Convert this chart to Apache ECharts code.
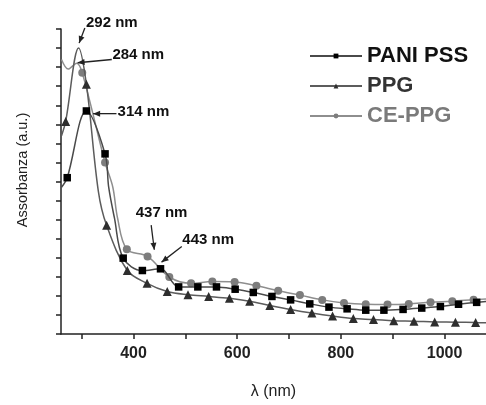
<!DOCTYPE html>
<html>
<head>
<meta charset="utf-8">
<script src="https://cdn.jsdelivr.net/npm/echarts@6/dist/echarts.min.js"></script>
<style>
  html, body { margin: 0; padding: 0; background: #fff; }
  #chart { width: 486px; height: 405px; }
</style>
</head>
<body>
<div id="chart"></div>
<script>
// wavelength (nm) and absorbance (a.u.)
const paniNm  = [261, 272, 309, 345, 352, 363, 380, 417, 452, 487, 524, 560, 596, 631, 667, 703, 740, 777, 812, 848, 883, 920, 956, 992, 1027, 1062, 1080];
const paniAbs = [7.7, 8.2, 11.7, 9.45, 7.7, 6.1, 3.98, 3.33, 3.42, 2.47, 2.47, 2.47, 2.35, 2.18, 1.97, 1.79, 1.58, 1.41, 1.32, 1.25, 1.25, 1.29, 1.36, 1.44, 1.56, 1.66, 1.7];
const paniNoMark = [261, 352, 363, 1080];

const ppgNm  = [261, 269, 294, 309, 332, 348, 388, 426, 465, 505, 545, 585, 624, 663, 703, 744, 784, 824, 863, 902, 941, 981, 1021, 1060, 1080];
const ppgAbs = [10.4, 11.15, 15.0, 13.1, 7.5, 5.7, 3.33, 2.66, 2.23, 2.06, 1.97, 1.87, 1.72, 1.5, 1.29, 1.1, 0.94, 0.81, 0.76, 0.69, 0.67, 0.63, 0.62, 0.6, 0.59];
const ppgNoMark = [261, 294, 332, 1080];

const ceNm  = [261, 274, 290, 301, 345, 360, 369, 387, 427, 469, 511, 552, 595, 637, 679, 721, 764, 806, 848, 890, 931, 973, 1015, 1056, 1080];
const ceAbs = [14.4, 13.9, 14.2, 13.7, 9.0, 7.7, 6.1, 4.45, 4.07, 2.99, 2.66, 2.75, 2.73, 2.53, 2.27, 2.04, 1.79, 1.63, 1.56, 1.55, 1.58, 1.67, 1.72, 1.8, 1.84];
const ceNoMark = [261, 274, 290, 360, 369, 1080];

const seriesNames = ['PANI PSS', 'PPG', 'CE-PPG'];
const xTicks  = [300, 400, 500, 600, 700, 800, 900, 1000];
const xLabels = [400, 600, 800, 1000];

// peak labels: text, text position, arrow tail, arrow tip (data coords)
const notes = [
  { text: '292 nm', at: [358, 16.33], from: [306, 16.05], to: [295, 15.26] },
  { text: '284 nm', at: [409, 14.63], from: [358, 14.4], to: [292, 14.23] },
  { text: '314 nm', at: [419, 11.66], from: [367, 11.56], to: [322, 11.56] },
  { text: '437 nm', at: [454, 6.35], from: [434, 5.71], to: [440, 4.42] },
  { text: '443 nm', at: [544, 4.94], from: [493, 4.59], to: [454, 3.77] }
];

function pts(nm, abs, noMark) {
  return nm.map((x, i) => {
    const p = { value: [x, abs[i]] };
    if (noMark.indexOf(x) >= 0) p.symbol = 'none';
    return p;
  });
}

const chart = echarts.init(document.getElementById('chart'));
const font = 'Liberation Sans, Arial, sans-serif';

const option = {
  animation: false,
  grid: { left: 61, right: 0, top: 29, bottom: 66 },
  legend: {
    orient: 'vertical',
    left: 304,
    top: 39,
    itemWidth: 52,
    itemHeight: 6,
    itemGap: 6,
    textStyle: { fontFamily: font, fontWeight: 'bold', fontSize: 22, lineHeight: 24 },
    data: [
      { name: seriesNames[0], textStyle: { color: '#111' } },
      { name: seriesNames[1], textStyle: { color: '#333' } },
      { name: seriesNames[2], textStyle: { color: '#7a7a7a' } }
    ]
  },
  xAxis: {
    type: 'value',
    min: 260,
    max: 1080,
    name: 'λ (nm)',
    nameLocation: 'middle',
    nameGap: 50,
    nameTextStyle: { fontFamily: font, fontSize: 16, color: '#222' },
    axisLine: { onZero: false, lineStyle: { color: '#222', width: 1.5 } },
    axisTick: { customValues: xTicks, length: 5, lineStyle: { color: '#222', width: 1.5 } },
    axisLabel: {
      customValues: xLabels, fontFamily: font, fontWeight: 'bold', fontSize: 16, color: '#222', margin: 12,
      formatter: v => String(v)
    },
    splitLine: { show: false }
  },
  yAxis: {
    type: 'value',
    min: 0,
    max: 16,
    interval: 1,
    axisLine: { show: true, lineStyle: { color: '#222', width: 1.5 } },
    axisTick: { show: true, length: 5, lineStyle: { color: '#222', width: 1.5 } },
    axisLabel: { show: false },
    splitLine: { show: false }
  },
  series: [
    {
      name: seriesNames[0], type: 'line', smooth: 0.35, z: 5,
      symbol: 'rect', symbolSize: 7.5,
      itemStyle: { color: '#000' },
      lineStyle: { color: '#4a4a4a', width: 1.5 },
      data: pts(paniNm, paniAbs, paniNoMark)
    },
    {
      name: seriesNames[1], type: 'line', smooth: 0.35, z: 4,
      symbol: 'triangle', symbolSize: 9,
      itemStyle: { color: '#2e2e2e' },
      lineStyle: { color: '#5c5c5c', width: 1.5 },
      data: pts(ppgNm, ppgAbs, ppgNoMark)
    },
    {
      name: seriesNames[2], type: 'line', smooth: 0.35, z: 3,
      symbol: 'circle', symbolSize: 8,
      itemStyle: { color: '#7d7d7d' },
      lineStyle: { color: '#8e8e8e', width: 1.5 },
      data: pts(ceNm, ceAbs, ceNoMark)
    }
  ]
};

chart.setOption(option);

// y axis title (rotated, so placed by x/y) and the peak annotations
const g = [{
  type: 'text', x: 23, y: 170, rotation: Math.PI / 2, z: 10,
  style: { text: 'Assorbanza (a.u.)', font: '14.5px ' + font, fill: '#222', align: 'center', verticalAlign: 'middle' }
}];
notes.forEach(n => {
  const t = chart.convertToPixel('grid', n.at);
  const a = chart.convertToPixel('grid', n.from);
  const b = chart.convertToPixel('grid', n.to);
  g.push({
    type: 'text', x: t[0], y: t[1], z: 10,
    style: { text: n.text, font: 'bold 15px ' + font, fill: '#111', align: 'center', verticalAlign: 'middle' }
  });
  g.push({
    type: 'line', z: 10,
    shape: { x1: a[0], y1: a[1], x2: b[0], y2: b[1] },
    style: { stroke: '#222', lineWidth: 1.3 }
  });
  const ang = Math.atan2(b[1] - a[1], b[0] - a[0]);
  const L = 7, W = 3;
  const bx = b[0] - L * Math.cos(ang), by = b[1] - L * Math.sin(ang);
  g.push({
    type: 'polygon', z: 10,
    shape: { points: [
      [b[0], b[1]],
      [bx + W * Math.sin(ang), by - W * Math.cos(ang)],
      [bx - W * Math.sin(ang), by + W * Math.cos(ang)]
    ] },
    style: { fill: '#222' }
  });
});
chart.setOption({ graphic: g });
</script>
</body>
</html>
